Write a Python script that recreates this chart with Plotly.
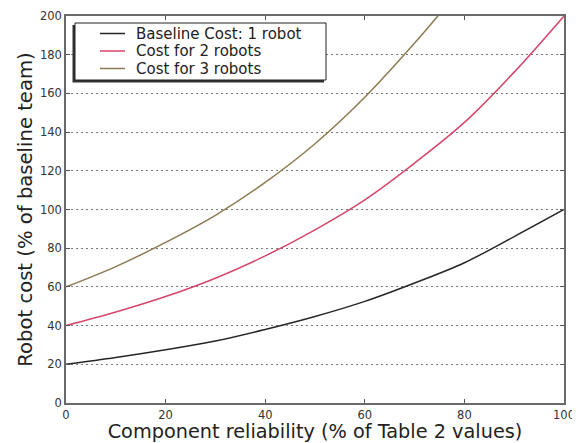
import plotly.graph_objects as go

reliability = [0, 10, 20, 30, 40, 50, 60, 70, 80, 90, 100]
cost_1_robot = [20, 23.5, 27.5, 32, 38, 44.7, 52.5, 62, 72.5, 86, 100]
cost_2_robots = [40, 47, 55, 64.5, 76, 89.5, 105, 124, 145, 171, 200]
reliability_3 = [0, 10, 20, 30, 40, 50, 60, 70, 75]
cost_3_robots = [60, 70.5, 83, 97, 114, 134, 158, 186, 201]

series_names = ["Baseline Cost: 1 robot", "Cost for 2 robots", "Cost for 3 robots"]
series_colors = ["#262626", "#d6466a", "#8c7a52"]

x_ticks = [0, 20, 40, 60, 80, 100]
y_ticks = [0, 20, 40, 60, 80, 100, 120, 140, 160, 180, 200]

fig = go.Figure()
for xs, ys, name, color in zip([reliability, reliability, reliability_3],
                               [cost_1_robot, cost_2_robots, cost_3_robots],
                               series_names, series_colors):
    fig.add_trace(go.Scatter(x=xs, y=ys, mode="lines", name=name,
                             showlegend=False,
                             line=dict(color=color, width=1.5, shape="spline")))

font_family = "DejaVu Sans"
# page is offset by the 8px body margin
OFF = 8
W, H = 580 - OFF, 443 - OFF
L, T, R, B = 66 - OFF, 16 - OFF, 16, 40
pw, ph = W - L - R, H - T - B

def px_x(p):
    return (p - OFF - L) / pw

def px_y(p):
    return (H - B - (p - OFF)) / ph

# legend box (drawn as decoration, page pixels)
shapes = [
    dict(type="rect", xref="paper", yref="paper", layer="above",
         x0=px_x(72.5), x1=px_x(324), y0=px_y(25), y1=px_y(82.5),
         fillcolor="#333333", line=dict(width=0)),
    dict(type="rect", xref="paper", yref="paper", layer="above",
         x0=px_x(75), x1=px_x(326), y0=px_y(23), y1=px_y(80),
         fillcolor="white", line=dict(color="#222222", width=1)),
]
annotations = []
row_y = [33.5, 51, 68.5]
for ry, name, color in zip(row_y, series_names, series_colors):
    shapes.append(dict(type="line", xref="paper", yref="paper", layer="above",
                       x0=px_x(100), x1=px_x(125), y0=px_y(ry), y1=px_y(ry),
                       line=dict(color=color, width=1.5)))
    annotations.append(dict(xref="paper", yref="paper", x=px_x(134), y=px_y(ry),
                            xanchor="left", yanchor="middle", showarrow=False,
                            text=name, font=dict(size=15, family=font_family,
                                                 color="#222222")))

fig.update_layout(
    width=W, height=H,
    margin=dict(l=L, r=R, t=T, b=B),
    paper_bgcolor="white", plot_bgcolor="white",
    font=dict(family=font_family, color="#333333"),
    showlegend=False,
    shapes=shapes,
    annotations=annotations,
    xaxis=dict(range=[0, 100], tickvals=x_ticks, ticks="inside", ticklen=4,
               tickcolor="#555", showline=True, linecolor="#6a6a6a", linewidth=1.5,
               mirror="ticks", showgrid=False, zeroline=False, automargin=False,
               tickfont=dict(size=11.5, color="#333"),
               title=dict(text="Component reliability (% of Table 2 values)",
                          font=dict(size=19.3, color="#222"), standoff=11)),
    yaxis=dict(range=[0, 200], tickvals=y_ticks, ticks="inside", ticklen=4,
               tickcolor="#555", showline=True, linecolor="#6a6a6a", linewidth=1.5,
               mirror="ticks", showgrid=True, gridcolor="#7a7a7a",
               griddash="2px,3px", gridwidth=1, zeroline=False, automargin=False,
               tickfont=dict(size=11.5, color="#333"),
               title=dict(text="Robot cost (% of baseline team)",
                          font=dict(size=19.6, color="#222"), standoff=2)),
)

fig.write_html("out.html")
